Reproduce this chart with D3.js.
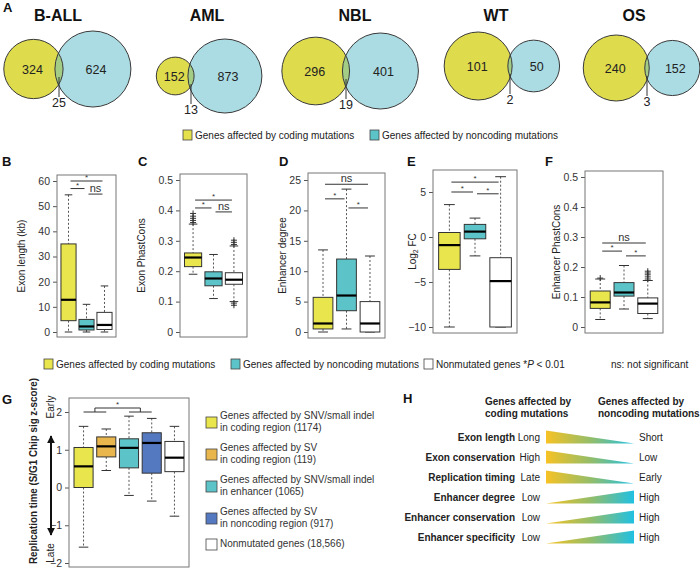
<!DOCTYPE html>
<html>
<head>
<meta charset="utf-8">
<script src="https://cdn.jsdelivr.net/npm/d3@7"></script>
<style>
body{margin:0;background:#fff;}
</style>
</head>
<body>
<svg width="700" height="569"></svg>
<script>
'use strict';

// ---- data ----
// A: venn counts
var vennNames = ["B-ALL", "AML", "NBL", "WT", "OS"];
var vennCoding = [324, 152, 296, 101, 240];
var vennNoncoding = [624, 873, 401, 50, 152];
var vennShared = [25, 13, 19, 2, 3];

// B-F: [low whisker, Q1, median, Q3, high whisker] for coding / noncoding / nonmutated
var exonLength = [[0, 4.5, 12.8, 35, 54.5], [0, 0.8, 2.2, 5.0, 11], [0, 1.0, 2.8, 7.8, 18.3]];
var exonLengthTicks = [0, 10, 20, 30, 40, 50, 60];
var exonLengthSig = [[0, 2, 60, "*"], [0, 1, 57, "*"], [1, 2, 54.8, "ns"]];

var exonCons = [[0.19, 0.215, 0.245, 0.26, 0.355], [0.11, 0.152, 0.176, 0.198, 0.255], [0.1, 0.157, 0.172, 0.195, 0.283]];
var exonConsOut = [[0.36, 0.367, 0.374, 0.381, 0.39], [], [0.088, 0.095, 0.288, 0.295, 0.302]];
var exonConsTicks = [0, 0.1, 0.2, 0.3, 0.4, 0.5];
var exonConsSig = [[0, 2, 0.434, "*"], [0, 1, 0.408, "*"], [1, 2, 0.395, "ns"]];

var enhDegree = [[0, 0.5, 1.4, 5.7, 13.5], [0.5, 3.5, 6.0, 12.0, 23.5], [0, 0, 1.4, 5.0, 12.5]];
var enhDegreeTicks = [0, 5, 10, 15, 20, 25];
var enhDegreeSig = [[0, 2, 24.3, "ns"], [0, 1, 21.9, "*"], [1, 2, 20.4, "*"]];

var log2fc = [[-10, -3.6, -0.9, 0.5, 3.6], [-2.1, -0.2, 0.6, 1.4, 2.1], [-10, -10, -4.9, -2.3, 6.7]];
var log2fcTicks = [-10, -5, 0, 5];
var log2fcSig = [[0, 2, 6.1, "*"], [0, 1, 5.0, "*"], [1, 2, 4.8, "*"]];

var enhCons = [[0.025, 0.062, 0.082, 0.12, 0.16], [0.06, 0.103, 0.115, 0.148, 0.205], [0.028, 0.045, 0.078, 0.097, 0.155]];
var enhConsOut = [[0.163], [], [0.16, 0.167, 0.174, 0.18, 0.186]];
var enhConsTicks = [0, 0.1, 0.2, 0.3, 0.4, 0.5];
var enhConsSig = [[0, 2, 0.28, "ns"], [0, 1, 0.253, "*"], [1, 2, 0.237, "*"]];

// G: replication timing
var gGroups = ["SNV coding", "SV coding", "SNV enhancer", "SV noncoding", "Nonmutated"];
var gStats = [[-1.58, 0, 0.56, 1.06, 1.62], [0.45, 0.81, 1.09, 1.34, 1.55], [-0.21, 0.52, 1.05, 1.29, 1.89], [-0.36, 0.38, 1.18, 1.45, 1.83], [-0.76, 0.42, 0.79, 1.22, 1.62]];
var gTicks = [-2, -1, 0, 1, 2];
var gLabels = [["Genes affected by SNV/small indel", "in coding region (1174)"],
               ["Genes affected by SV", "in coding region (119)"],
               ["Genes affected by SNV/small indel", "in enhancer (1065)"],
               ["Genes affected by SV", "in noncoding region (917)"],
               ["Nonmutated genes (18,566)"]];

// H: summary
var hFeatures = ["Exon length", "Exon conservation", "Replication timing", "Enhancer degree", "Enhancer conservation", "Enhancer specificity"];
var hCodingLevel = ["Long", "High", "Late", "Low", "Low", "Low"];
var hNoncodingLevel = ["Short", "Low", "Early", "High", "High", "High"];
var hHigherIn = ["coding", "coding", "coding", "noncoding", "noncoding", "noncoding"];

// ---- styles ----
var font = "'Liberation Sans', Arial, Helvetica, sans-serif";
var cYellow = "#e9e54c", cCyan = "#5cc4c8", cWhite = "#ffffff";
var cOrange = "#e8b64c", cBlue = "#5579c0";

var svg = d3.select("svg").attr("font-family", font);

// panel letters
[["A", 3, 12], ["B", 2, 166], ["C", 138, 166], ["D", 279, 166], ["E", 407, 166], ["F", 545, 166], ["G", 2, 404], ["H", 403, 403]]
  .forEach(function(l){
    svg.append("text").attr("x", l[1]).attr("y", l[2]).text(l[0])
      .attr("font-size", 13).attr("font-weight", "bold").attr("fill", "#111");
  });

// ---- A: venns ----
var vennLayout = [
  {ix: 59, cy: 69, R: 38, tx: 58},
  {ix: 191, cy: 76, R: 37, tx: 207},
  {ix: 346, cy: 71, R: 38, tx: 355},
  {ix: 510, cy: 66, R: 34, tx: 496},
  {ix: 647, cy: 68, R: 33, tx: 634}
];
var defs = svg.append("defs");
vennNames.forEach(function(name, i){
  var L = vennLayout[i];
  var a = vennCoding[i] + vennShared[i], b = vennNoncoding[i] + vennShared[i];
  var r = d3.scalePow().exponent(0.4).domain([0, Math.max(a, b)]).range([0, L.R]);
  var ra = r(a), rb = r(b);
  var lens = 4 + vennShared[i] / 6;
  var ca = L.ix + lens / 2 - ra, cb = L.ix - lens / 2 + rb;
  var g = svg.append("g");
  defs.append("clipPath").attr("id", "vclip" + i)
    .append("circle").attr("cx", cb).attr("cy", L.cy).attr("r", rb);
  g.append("circle").attr("cx", ca).attr("cy", L.cy).attr("r", ra).attr("fill", "#dedb4d");
  g.append("circle").attr("cx", cb).attr("cy", L.cy).attr("r", rb).attr("fill", "#abdce3");
  g.append("circle").attr("cx", ca).attr("cy", L.cy).attr("r", ra).attr("fill", "#a3cd85")
    .attr("clip-path", "url(#vclip" + i + ")");
  g.selectAll(".ring").data([[ca, ra], [cb, rb]]).enter().append("circle")
    .attr("cx", function(d){ return d[0]; }).attr("cy", L.cy)
    .attr("r", function(d){ return d[1]; })
    .attr("fill", "none").attr("stroke", "#3a3a3a").attr("stroke-width", 1);
  g.append("text").attr("x", L.tx).attr("y", 21).attr("text-anchor", "middle")
    .attr("font-size", 16).attr("font-weight", "bold").attr("fill", "#111").text(name);
  g.append("text").attr("x", ca - 1).attr("y", L.cy + 4.5).attr("text-anchor", "middle")
    .attr("font-size", 12.5).attr("fill", "#222").text(vennCoding[i]);
  g.append("text").attr("x", cb + 3).attr("y", L.cy + 4.5).attr("text-anchor", "middle")
    .attr("font-size", 12.5).attr("fill", "#222").text(vennNoncoding[i]);
  g.append("line").attr("x1", L.ix).attr("x2", L.ix).attr("y1", L.cy + 8).attr("y2", L.cy + 28)
    .attr("stroke", "#333").attr("stroke-width", 1);
  g.append("text").attr("x", L.ix).attr("y", L.cy + 38).attr("text-anchor", "middle")
    .attr("font-size", 12.5).attr("fill", "#222").text(vennShared[i]);
});

function legendItem(x, y, color, parts){
  svg.append("rect").attr("x", x).attr("y", y - 5).attr("width", 9).attr("height", 10)
    .attr("fill", color).attr("stroke", "#444").attr("stroke-width", 0.8);
  var t = svg.append("text").attr("x", x + 12).attr("y", y + 3.5).attr("font-size", 10).attr("fill", "#222");
  parts.forEach(function(p){
    t.append("tspan").text(p[0]).attr("font-style", p[1] ? "italic" : null);
  });
}
legendItem(183, 135, "#e5e14d", [["Genes affected by coding mutations"]]);
legendItem(370, 135, cCyan, [["Genes affected by noncoding mutations"]]);

// ---- B-F boxplots ----
function boxPanel(p){
  var x = d3.scaleBand().domain(d3.range(p.stats.length))
    .range([p.frame[0], p.frame[2]]).paddingInner(0.16).paddingOuter(0.22);
  var y = d3.scaleLinear().domain([p.ticks[0], p.ticks[p.ticks.length - 1]]).range(p.ty);
  var bw = x.bandwidth();
  var g = svg.append("g");

  g.append("g").attr("transform", "translate(" + p.frame[0] + ",0)")
    .call(d3.axisLeft(y).tickValues(p.ticks).tickSize(4).tickPadding(3).tickFormat(d3.format("~g")))
    .call(function(ax){
      ax.select(".domain").remove();
      ax.selectAll("line").attr("stroke", "#555");
      ax.selectAll("text").attr("font-size", 10.5).attr("fill", "#333").attr("font-family", font);
    });
  g.append("rect").attr("x", p.frame[0]).attr("y", p.frame[1])
    .attr("width", p.frame[2] - p.frame[0]).attr("height", p.frame[3] - p.frame[1])
    .attr("fill", "none").attr("stroke", "#777").attr("stroke-width", 1);

  var ly = p.labelY || (p.frame[1] + p.frame[3]) / 2;
  var yl = g.append("text").attr("transform", "translate(" + p.labelX + "," + ly + ") rotate(-90)")
    .attr("text-anchor", "middle").attr("font-size", 10).attr("fill", "#222")
    .attr("font-weight", p.bold ? "bold" : null);
  if (p.labelLen) yl.attr("textLength", p.labelLen).attr("lengthAdjust", "spacingAndGlyphs");
  if (p.sub) {
    yl.append("tspan").text(p.label[0]);
    yl.append("tspan").text(p.label[1]).attr("font-size", 7).attr("dy", 2);
    yl.append("tspan").text(p.label[2]).attr("dy", -2);
  } else {
    yl.text(p.label);
  }

  var boxes = g.selectAll(".box").data(p.stats).enter().append("g");
  boxes.each(function(s, i){
    var b = d3.select(this);
    var cx = x(i) + bw / 2;
    b.selectAll(".wh").data([[s[4], s[3]], [s[1], s[0]]]).enter().append("line")
      .attr("x1", cx).attr("x2", cx)
      .attr("y1", function(d){ return y(d[0]); }).attr("y2", function(d){ return y(d[1]); })
      .attr("stroke", "#444").attr("stroke-width", 0.9).attr("stroke-dasharray", "2,2");
    b.selectAll(".cap").data([s[0], s[4]]).enter().append("line")
      .attr("x1", cx - bw / 4).attr("x2", cx + bw / 4)
      .attr("y1", function(d){ return y(d); }).attr("y2", function(d){ return y(d); })
      .attr("stroke", "#333").attr("stroke-width", 1);
    b.append("rect").attr("x", x(i)).attr("y", y(s[3]))
      .attr("width", bw).attr("height", Math.max(0.5, y(s[1]) - y(s[3])))
      .attr("fill", p.colors[i]).attr("stroke", "#333").attr("stroke-width", 1);
    b.append("line").attr("x1", x(i)).attr("x2", x(i) + bw)
      .attr("y1", y(s[2])).attr("y2", y(s[2]))
      .attr("stroke", "#000").attr("stroke-width", 2.2);
    var outs = p.out ? p.out[i] : [];
    outs.forEach(function(o){
      b.append("path").attr("d", "M" + (cx - 3) + "," + y(o) + "H" + (cx + 3) + "M" + cx + "," + (y(o) - 3) + "V" + (y(o) + 3))
        .attr("stroke", "#333").attr("stroke-width", 1).attr("fill", "none");
    });
  });

  if (p.sig) {
    p.sig.forEach(function(s){
      var x1 = x(s[0]) + bw / 2 + 2, x2 = x(s[1]) + bw / 2 - 2, yy = y(s[2]);
      g.append("line").attr("x1", x1).attr("x2", x2).attr("y1", yy).attr("y2", yy)
        .attr("stroke", "#333").attr("stroke-width", 1);
      g.append("text").attr("x", (x1 + x2) / 2).attr("y", s[3] === "*" ? yy - 1 : yy - 2)
        .attr("text-anchor", "middle").attr("fill", "#333")
        .attr("font-size", s[3] === "*" ? 8 : 11).text(s[3]);
    });
  }
  return {x: x, y: y, g: g, bw: bw};
}

var triColors = [cYellow, cCyan, cWhite];
boxPanel({stats: exonLength, ticks: exonLengthTicks, sig: exonLengthSig, colors: triColors,
  frame: [57, 175, 116, 337], ty: [332, 181], label: "Exon length (kb)", labelX: 25});
boxPanel({stats: exonCons, out: exonConsOut, ticks: exonConsTicks, sig: exonConsSig, colors: triColors,
  frame: [180, 174, 247, 337], ty: [332, 180], label: "Exon PhastCons", labelX: 145});
boxPanel({stats: enhDegree, ticks: enhDegreeTicks, sig: enhDegreeSig, colors: triColors,
  frame: [308, 173, 385, 338], ty: [332, 180], label: "Enhancer degree", labelX: 286});
boxPanel({stats: log2fc, ticks: log2fcTicks, sig: log2fcSig, colors: triColors,
  frame: [433, 170, 517, 333], ty: [327, 192], label: ["Log", "2", " FC"], sub: true, labelX: 416});
boxPanel({stats: enhCons, out: enhConsOut, ticks: enhConsTicks, sig: enhConsSig, colors: triColors,
  frame: [585, 171, 663, 333], ty: [327, 177], label: "Enhancer PhastCons", labelX: 560});

legendItem(44, 364, cYellow, [["Genes affected by coding mutations"]]);
legendItem(231, 364, cCyan, [["Genes affected by noncoding mutations"]]);
legendItem(424, 364, cWhite, [["Nonmutated genes *"], ["P", true], [" < 0.01"]]);
svg.append("text").attr("x", 611).attr("y", 367.5).attr("font-size", 10).attr("fill", "#222").text("ns: not significant");

// ---- G ----
var gp = boxPanel({stats: gStats, ticks: gTicks, colors: [cYellow, cOrange, cCyan, cBlue, cWhite],
  frame: [69, 398, 189, 567], ty: [563, 412], label: "Replication time (S/G1 Chip sig z-score)", bold: true,
  labelX: 37, labelY: 471, labelLen: 186});
(function(){
  var c = function(i){ return gp.x(i) + gp.bw / 2; };
  var yLow = gp.y(2.0), yHigh = yLow - 4;
  var m1 = (c(0) + c(1)) / 2, m2 = (c(2) + c(3)) / 2;
  var path = "M" + c(0) + "," + yLow + "H" + c(1) + "M" + c(2) + "," + yLow + "H" + c(3) +
    "M" + m1 + "," + yLow + "V" + yHigh + "H" + m2 + "V" + yLow;
  gp.g.append("path").attr("d", path).attr("fill", "none").attr("stroke", "#333").attr("stroke-width", 1);
  gp.g.append("text").attr("x", (m1 + m2) / 2).attr("y", yHigh - 1).attr("text-anchor", "middle")
    .attr("font-size", 8).attr("fill", "#333").text("*");
})();
// early / late arrow
defs.append("marker").attr("id", "arr").attr("viewBox", "0 0 10 10").attr("refX", 9).attr("refY", 5)
  .attr("markerWidth", 4).attr("markerHeight", 4).attr("orient", "auto-start-reverse")
  .append("path").attr("d", "M0,0L10,5L0,10z").attr("fill", "#111");
svg.append("line").attr("x1", 51).attr("x2", 51).attr("y1", 436).attr("y2", 535)
  .attr("stroke", "#111").attr("stroke-width", 2)
  .attr("marker-start", "url(#arr)").attr("marker-end", "url(#arr)");
[["Early", 407], ["Late", 553]].forEach(function(t){
  svg.append("text").attr("transform", "translate(54," + t[1] + ") rotate(-90)")
    .attr("text-anchor", "middle").attr("font-size", 10).attr("fill", "#222").text(t[0]);
});
// G legend
var gColors = [cYellow, cOrange, cCyan, cBlue, cWhite];
var gy = 411;
gLabels.forEach(function(lines, i){
  var h = lines.length * 12;
  svg.append("rect").attr("x", 206).attr("y", gy + h / 2 - 6).attr("width", 11).attr("height", 11)
    .attr("fill", gColors[i]).attr("stroke", "#444").attr("stroke-width", 0.8);
  lines.forEach(function(l, k){
    svg.append("text").attr("x", 220).attr("y", gy + 8 + k * 12).attr("font-size", 10).attr("fill", "#333").text(l);
  });
  gy += h + 8;
});

// ---- H ----
var hx = d3.scaleLinear().domain([0, 1]).range([546, 634]);
var hy = d3.scalePoint().domain(hFeatures).range([437, 537]);
var hh = 6.5;
var grad = defs.append("linearGradient").attr("id", "hgrad").attr("x1", 0).attr("x2", 1).attr("y1", 0).attr("y2", 0);
grad.append("stop").attr("offset", 0).attr("stop-color", "#f7c224");
grad.append("stop").attr("offset", 0.5).attr("stop-color", "#95bd68");
grad.append("stop").attr("offset", 1).attr("stop-color", "#20c0e2");
[["Genes affected by", "coding mutations", 485], ["Genes affected by", "noncoding mutations", 598]].forEach(function(h){
  svg.append("text").attr("x", h[2]).attr("y", 405).attr("font-size", 10).attr("font-weight", "bold").attr("fill", "#222").text(h[0]);
  svg.append("text").attr("x", h[2]).attr("y", 416.5).attr("font-size", 10).attr("font-weight", "bold").attr("fill", "#222").text(h[1]);
});
hFeatures.forEach(function(f, i){
  var yc = hy(f);
  svg.append("text").attr("x", 515).attr("y", yc + 3.5).attr("text-anchor", "end")
    .attr("font-size", 10).attr("font-weight", "bold").attr("fill", "#222").text(f);
  svg.append("text").attr("x", 540).attr("y", yc + 3.5).attr("text-anchor", "end")
    .attr("font-size", 10).attr("fill", "#222").text(hCodingLevel[i]);
  svg.append("text").attr("x", 639).attr("y", yc + 3.5)
    .attr("font-size", 10).attr("fill", "#222").text(hNoncodingLevel[i]);
  var pts = hHigherIn[i] === "coding"
    ? [[0, -hh], [0, hh], [1, hh]]
    : [[0, hh], [1, -hh], [1, hh]];
  svg.append("path")
    .attr("d", "M" + pts.map(function(p){ return hx(p[0]) + "," + (yc + p[1]); }).join("L") + "Z")
    .attr("fill", "url(#hgrad)");
});
</script>
</body>
</html>
